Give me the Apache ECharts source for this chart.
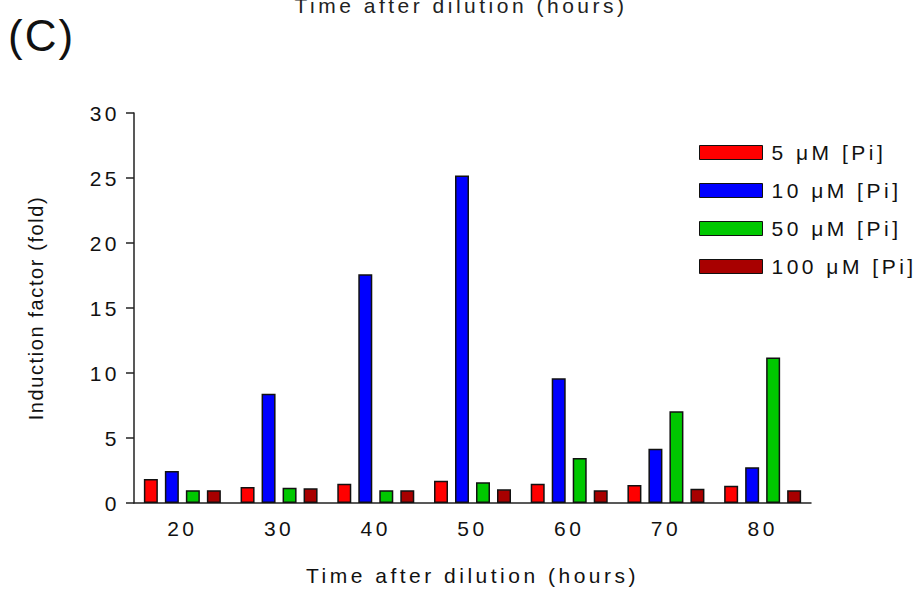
<!DOCTYPE html>
<html>
<head>
<meta charset="utf-8">
<script src="https://cdn.jsdelivr.net/npm/echarts@6/dist/echarts.min.js"></script>
<style>
  html, body { margin: 0; padding: 0; background: #fff; }
  #chart { width: 922px; height: 589px; }
  /* the original figure has widely tracked lettering */
  #chart text { letter-spacing: 3.5px; }
</style>
</head>
<body>
<div id="chart"></div>
<script>
const hours = ['20', '30', '40', '50', '60', '70', '80']
const seriesNames = ['5 μM [Pi]', '10 μM [Pi]', '50 μM [Pi]', '100 μM [Pi]']
const pi5 = [1.85, 1.23, 1.48, 1.72, 1.48, 1.38, 1.33]
const pi10 = [2.46, 8.4, 17.6, 25.2, 9.6, 4.18, 2.75]
const pi50 = [0.99, 1.18, 0.98, 1.6, 3.46, 7.05, 11.2]
const pi100 = [0.99, 1.13, 0.98, 1.05, 0.98, 1.1, 0.98]
const colors = ['#ff0000', '#0000ff', '#00c800', '#a80000']

const chart = echarts.init(document.getElementById('chart'), null, { renderer: 'svg' })

const font = 'Liberation Sans, Arial, sans-serif'

const makeBar = (name, data, i) => ({
  name: name,
  type: 'bar',
  data: data,
  barWidth: 14,
  barGap: '50%',
  itemStyle: {
    color: colors[i],
    borderColor: '#111',
    borderWidth: 1.5
  }
})

const option = {
  animation: false,
  backgroundColor: '#fff',
  title: [
    {
      text: '(C)',
      left: 3,
      top: 8,
      textStyle: { fontFamily: font, fontSize: 44, fontWeight: 'normal', color: '#111' }
    },
    {
      // axis title of the panel above, clipped at the top edge as in the figure
      text: 'Time after dilution (hours)',
      left: 'center',
      top: -10,
      textStyle: { fontFamily: font, fontSize: 21, fontWeight: 'normal', color: '#222' }
    }
  ],
  legend: {
    orient: 'vertical',
    left: 694,
    top: 137,
    itemWidth: 63,
    itemHeight: 14,
    itemGap: 17,
    icon: 'rect',
    textStyle: { fontFamily: font, fontSize: 21, color: '#111', padding: [0, 0, 0, 4] },
    data: seriesNames.map((n, i) => ({
      name: n,
      itemStyle: { color: colors[i], borderColor: '#111', borderWidth: 1 }
    }))
  },
  grid: {
    left: 134,
    right: 111,
    top: 113,
    bottom: 86,
    outerBoundsMode: 'none'
  },
  xAxis: {
    type: 'category',
    data: hours,
    name: 'Time after dilution (hours)',
    nameLocation: 'middle',
    nameGap: 62,
    nameTextStyle: { fontFamily: font, fontSize: 21, color: '#111' },
    axisLine: { lineStyle: { color: '#222', width: 1.5 } },
    axisTick: { alignWithLabel: true, length: 7, lineStyle: { color: '#222', width: 1.5 } },
    axisLabel: { fontFamily: font, fontSize: 21, color: '#111', margin: 15 }
  },
  yAxis: {
    type: 'value',
    min: 0,
    max: 30,
    interval: 5,
    name: 'Induction factor (fold)',
    nameLocation: 'middle',
    nameGap: 88,
    nameTextStyle: { fontFamily: font, fontSize: 20, color: '#111' },
    splitLine: { show: false },
    axisLine: { show: true, lineStyle: { color: '#222', width: 1.5 } },
    axisTick: { show: true, length: 8, lineStyle: { color: '#222', width: 1.5 } },
    axisLabel: { fontFamily: font, fontSize: 21, color: '#111', margin: 14 }
  },
  series: [
    makeBar(seriesNames[0], pi5, 0),
    makeBar(seriesNames[1], pi10, 1),
    makeBar(seriesNames[2], pi50, 2),
    makeBar(seriesNames[3], pi100, 3)
  ]
}

chart.setOption(option)

// y axis title is less spread out than the rest
document.querySelectorAll('#chart text').forEach(t => {
  if (t.textContent === 'Induction factor (fold)') t.style.letterSpacing = '1.6px'
  if (t.textContent === '(C)') t.style.letterSpacing = '2px'
})
</script>
</body>
</html>
